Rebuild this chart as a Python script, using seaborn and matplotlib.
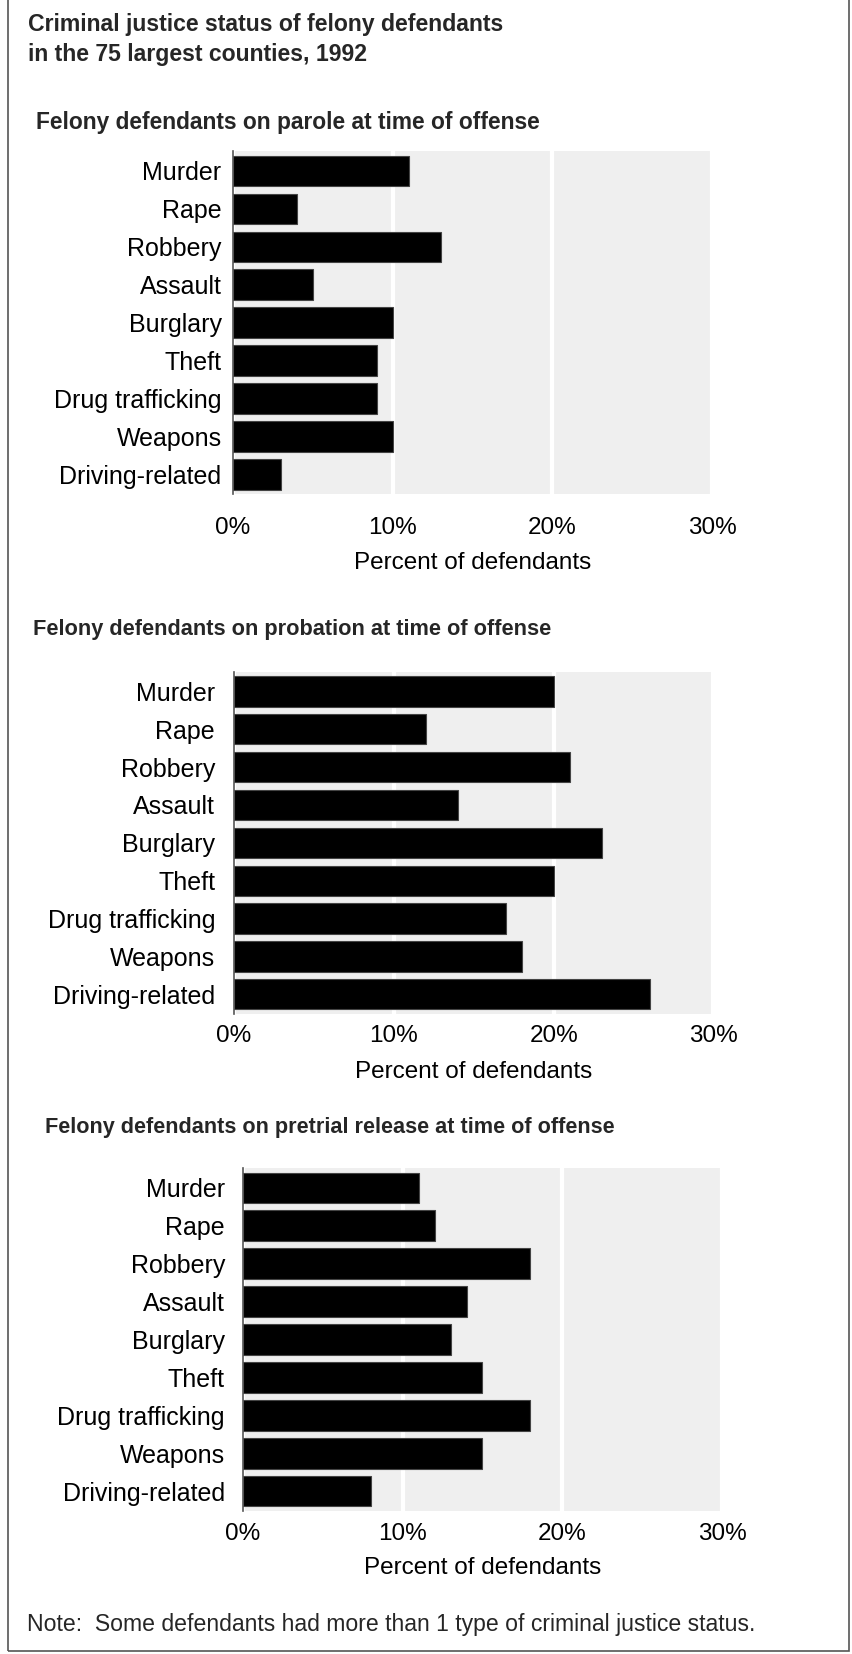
import matplotlib
matplotlib.use("Agg")
import matplotlib.pyplot as plt
from matplotlib.patches import Rectangle
from matplotlib.ticker import PercentFormatter
import pandas as pd
import seaborn as sns

# Data (percent of defendants)
offenses = ["Murder", "Rape", "Robbery", "Assault", "Burglary", "Theft",
            "Drug trafficking", "Weapons", "Driving-related"]
parole_pct = [11, 4, 13, 5, 10, 9, 9, 10, 3]
probation_pct = [20, 12, 21, 14, 23, 20, 17, 18, 26]
pretrial_pct = [11, 12, 18, 14, 13, 15, 18, 15, 8]
x_ticks = [0, 10, 20, 30]

title_lines = ["Criminal justice status of felony defendants",
               "in the 75 largest counties, 1992"]
panel_titles = [
    "Felony defendants on parole at time of offense",
    "Felony defendants on probation at time of offense",
    "Felony defendants on pretrial release at time of offense",
]
x_label = "Percent of defendants"
note = "Note:  Some defendants had more than 1 type of criminal justice status."

W, H = 853, 1654


def px_rect(left, top, right, bottom):
    """Pixel box (from top-left) -> figure fraction rect."""
    return [left / W, 1 - bottom / H, (right - left) / W, (bottom - top) / H]


sns.set_theme(style="whitegrid", rc={
    "axes.facecolor": "#efefef",
    "grid.color": "white",
    "grid.linewidth": 3,
})
plt.rcParams["font.family"] = ["Liberation Sans", "DejaVu Sans"]

fig = plt.figure(figsize=(W / 100, H / 100), dpi=100)

# title, two lines
for line, y in zip(title_lines, [24, 54]):
    fig.text(28 / W, 1 - y / H, line, fontsize=16.6, fontweight="bold",
             va="center", ha="left")

# layout of the three panels: axes box, subtitle spot/size and paddings
panels = [
    dict(values=parole_pct, box=(232.7, 151, 712.3, 494.3), sub=(36, 122),
         sub_size=16.4, ypad=8.0, xpad=16.0, lpad=10.0),
    dict(values=probation_pct, box=(234, 671.7, 713.5, 1014), sub=(33, 630),
         sub_size=15.7, ypad=13.6, xpad=7.8, lpad=10.2),
    dict(values=pretrial_pct, box=(243, 1168, 722, 1511), sub=(45, 1127),
         sub_size=15.6, ypad=13.0, xpad=9.0, lpad=8.0),
]

for title, p in zip(panel_titles, panels):
    fig.text(p["sub"][0] / W, 1 - p["sub"][1] / H, title, fontsize=p["sub_size"],
             fontweight="bold", va="center", ha="left")

    ax = fig.add_axes(px_rect(*p["box"]))
    df = pd.DataFrame({"offense": offenses, "pct": p["values"]})
    sns.barplot(data=df, x="pct", y="offense", color="black", saturation=1,
                width=0.8, edgecolor="#444444", linewidth=0.8, ax=ax)

    ax.set_xlim(0, 30)
    ax.set_ylim(8.52, -0.52)
    ax.set_xticks(x_ticks)
    ax.xaxis.set_major_formatter(PercentFormatter(decimals=0))
    ax.grid(axis="x", color="white", linewidth=3)
    ax.grid(axis="y", visible=False)
    ax.set_axisbelow(True)

    for s in ["top", "right", "bottom"]:
        ax.spines[s].set_visible(False)
    ax.spines["left"].set_color("#555555")
    ax.spines["left"].set_linewidth(1.2)

    ax.tick_params(axis="both", length=0, labelcolor="black")
    ax.tick_params(axis="y", pad=p["ypad"], labelsize=18)
    ax.tick_params(axis="x", pad=p["xpad"], labelsize=17.5)
    ax.set_ylabel("")
    ax.set_xlabel(x_label, fontsize=17.5, color="black", labelpad=p["lpad"])

# note
fig.text(27 / W, 1 - 1625 / H, note, fontsize=16.6, va="center", ha="left")

# frame around the whole graphic
fig.add_artist(Rectangle((8 / W, 3 / H), (849 - 8) / W, (H + 5) / H,
                         transform=fig.transFigure, fill=False,
                         edgecolor="#555555", linewidth=1.2))

fig.savefig("out.png", dpi=100)
